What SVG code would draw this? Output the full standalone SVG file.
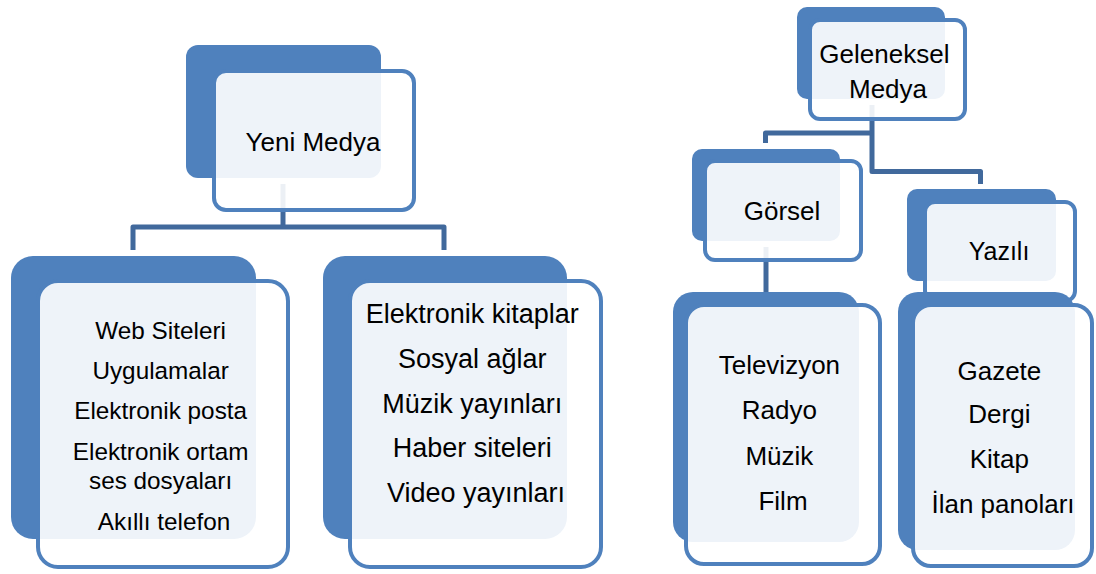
<svg xmlns="http://www.w3.org/2000/svg" width="1096" height="574" viewBox="0 0 1096 574">
<style>
.back{fill:#4F81BD}
.front{fill:#FFFFFF;fill-opacity:0.9;stroke:#4F81BD;stroke-width:4}
.conn{fill:none;stroke:#41699C;stroke-width:5;stroke-linejoin:round}
text{font-family:"Liberation Sans",Arial,sans-serif;fill:#000;text-anchor:middle}
</style>
<rect width="1096" height="574" fill="#FFFFFF"/>
<g id="connectors">
<path class="conn" d="M283,184 V227"/>
<path class="conn" d="M133,250 V227 H444 V250"/>
<path class="conn" d="M872,105 V171.5 H980.5 V184"/>
<path class="conn" d="M765.5,143 V133 H872"/>
<path class="conn" d="M766,247 V292"/>
</g>
<g id="yeni-medya">
<rect class="back" x="186" y="45" width="195" height="133" rx="12"/>
<rect class="front" x="214" y="71" width="200" height="139" rx="12"/>
<text x="313" y="151" font-size="26">Yeni Medya</text>
</g>
<g id="yeni-medya-1">
<rect class="back" x="11" y="256" width="245" height="283" rx="22"/>
<rect class="front" x="38" y="281" width="250" height="286" rx="20"/>
<text font-size="24.3">
<tspan x="164" y="339">Web Siteleri</tspan>
<tspan x="164" y="379">Uygulamalar</tspan>
<tspan x="164" y="419">Elektronik posta</tspan>
<tspan x="164" y="460">Elektronik ortam</tspan>
<tspan x="164" y="489">ses dosyaları</tspan>
<tspan x="164" y="530">Akıllı telefon</tspan>
</text>
</g>
<g id="yeni-medya-2">
<rect class="back" x="323" y="256" width="244" height="283" rx="22"/>
<rect class="front" x="350" y="281" width="251" height="286" rx="20"/>
<text font-size="27">
<tspan x="476" y="323">Elektronik kitaplar</tspan>
<tspan x="476" y="368">Sosyal ağlar</tspan>
<tspan x="476" y="413">Müzik yayınları</tspan>
<tspan x="476" y="457">Haber siteleri</tspan>
<tspan x="476" y="502">Video yayınları</tspan>
</text>
</g>
<g id="geleneksel-medya">
<rect class="back" x="797" y="7" width="148" height="92" rx="10"/>
<rect class="front" x="810" y="20" width="155" height="99" rx="10"/>
<text font-size="26">
<tspan x="888" y="63">Geleneksel</tspan>
<tspan x="888" y="98">Medya</tspan>
</text>
</g>
<g id="gorsel">
<rect class="back" x="692" y="149" width="148" height="92" rx="10"/>
<rect class="front" x="705" y="161" width="156" height="99" rx="10"/>
<text x="782" y="220" font-size="26">Görsel</text>
</g>
<g id="gorsel-items">
<rect class="back" x="673" y="292" width="186" height="250" rx="20"/>
<rect class="front" x="686" y="305" width="194" height="259" rx="18"/>
<text font-size="26">
<tspan x="783" y="374">Televizyon</tspan>
<tspan x="783" y="419">Radyo</tspan>
<tspan x="783" y="465">Müzik</tspan>
<tspan x="783" y="510">Film</tspan>
</text>
</g>
<g id="yazili">
<rect class="back" x="907" y="189" width="149" height="92" rx="10"/>
<rect class="front" x="925" y="202" width="150" height="99" rx="10"/>
<text x="999" y="260" font-size="25">Yazılı</text>
</g>
<g id="yazili-items">
<rect class="back" x="898" y="292" width="177" height="258" rx="20"/>
<rect class="front" x="913" y="305" width="179" height="261" rx="18"/>
<text font-size="26">
<tspan x="1003" y="380">Gazete</tspan>
<tspan x="1003" y="423">Dergi</tspan>
<tspan x="1003" y="468">Kitap</tspan>
<tspan x="1003" y="513">İlan panoları</tspan>
</text>
</g>
</svg>
